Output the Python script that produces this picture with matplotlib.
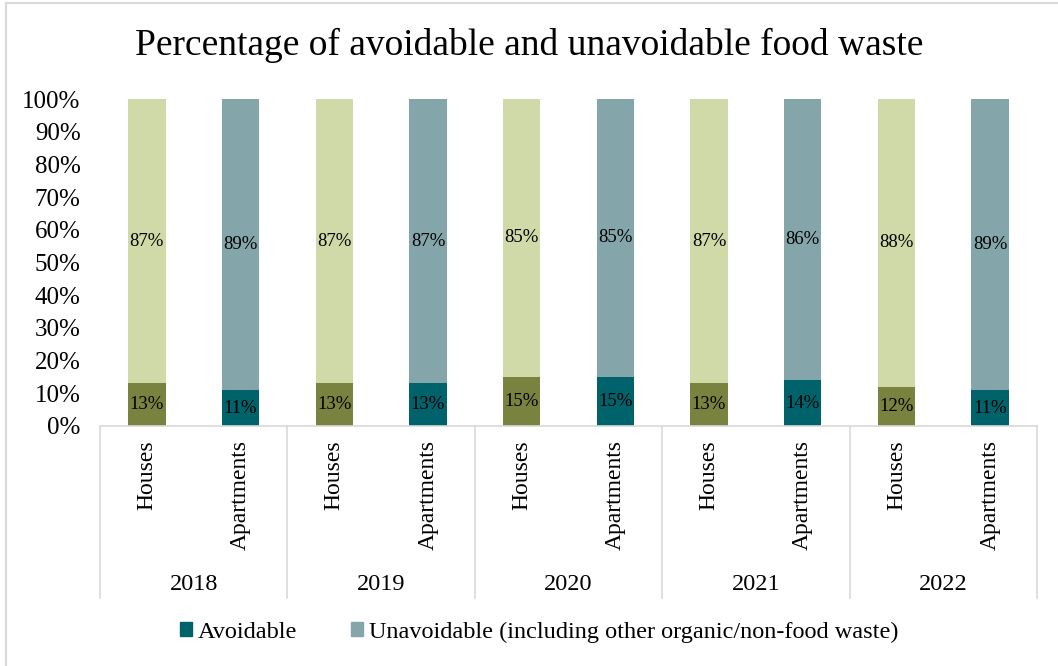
import matplotlib.pyplot as plt
from matplotlib.lines import Line2D
from matplotlib.patches import Patch

years = ["2018", "2019", "2020", "2021", "2022"]
types = ["Houses", "Apartments"]
houses_avoid = [13, 13, 15, 13, 12]
houses_unavoid = [87, 87, 85, 87, 88]
apts_avoid = [11, 13, 15, 14, 11]
apts_unavoid = [89, 87, 85, 86, 89]

plt.rcParams["font.family"] = ["Liberation Serif", "DejaVu Serif"]

W, H = 1058, 666
fig = plt.figure(figsize=(W / 100, H / 100), dpi=100)
ax = fig.add_axes([100 / W, (H - 426) / H, (1037 - 100) / W, (426 - 99) / H])

c_h_dark, c_h_light = "#7a823f", "#d0d9a8"
c_a_dark, c_a_light = "#00636c", "#84a5a9"

xh = [2 * i for i in range(len(years))]
xa = [2 * i + 1 for i in range(len(years))]
bw = 0.4

ax.bar(xh, houses_avoid, bw, color=c_h_dark)
ax.bar(xh, houses_unavoid, bw, bottom=houses_avoid, color=c_h_light)
ax.bar(xa, apts_avoid, bw, color=c_a_dark)
ax.bar(xa, apts_unavoid, bw, bottom=apts_avoid, color=c_a_light)

for xs, av, un in [(xh, houses_avoid, houses_unavoid), (xa, apts_avoid, apts_unavoid)]:
    for x, a, u in zip(xs, av, un):
        ax.text(x, a / 2, f"{a}%", ha="center", va="center", fontsize=13.5)
        ax.text(x, a + u / 2, f"{u}%", ha="center", va="center", fontsize=13.5)

ax.set_xlim(-0.5, 2 * len(years) - 0.5)
ax.set_ylim(0, 100)
ax.set_yticks(range(0, 101, 10))
ax.set_yticklabels([f"{v}%" for v in range(0, 101, 10)], fontsize=18)
ax.tick_params(axis="y", length=0, pad=14)
ax.set_xticks([])
for s in ["top", "right", "left"]:
    ax.spines[s].set_visible(False)
ax.spines["bottom"].set_color("#d9d9d9")
ax.spines["bottom"].set_linewidth(1.2)

# multi-level category axis
trans = ax.get_xaxis_transform()
for i, yr in enumerate(years):
    for j, t in enumerate(types):
        ax.text(2 * i + j, -0.043, t, rotation=90, ha="center", va="top",
                fontsize=17, transform=trans)
    ax.text(2 * i + 0.5, -0.486, yr, ha="center", va="center", fontsize=17.5,
            transform=trans)
for k in range(len(years) + 1):
    ax.add_line(Line2D([2 * k - 0.5, 2 * k - 0.5], [0, -0.526], transform=trans,
                       color="#d9d9d9", lw=1.2, clip_on=False))

fig.suptitle("Percentage of avoidable and unavoidable food waste",
             fontsize=27, y=1 - 45 / H, va="center")

handles = [Patch(color=c_a_dark), Patch(color=c_a_light)]
fig.legend(handles, ["Avoidable", "Unavoidable (including other organic/non-food waste)"],
           loc="center", bbox_to_anchor=(539 / W, 1 - 632 / H), ncol=2, frameon=False,
           fontsize=17.5, handlelength=0.5, handleheight=0.5, handletextpad=0.25,
           columnspacing=2.2)

# chart border
fig.add_artist(Line2D([6 / W, 1], [1 - 3 / H, 1 - 3 / H], color="#d9d9d9", lw=1.5))
fig.add_artist(Line2D([6 / W, 6 / W], [0, 1 - 3 / H], color="#d9d9d9", lw=1.5))

fig.savefig("out.png", dpi=100)
